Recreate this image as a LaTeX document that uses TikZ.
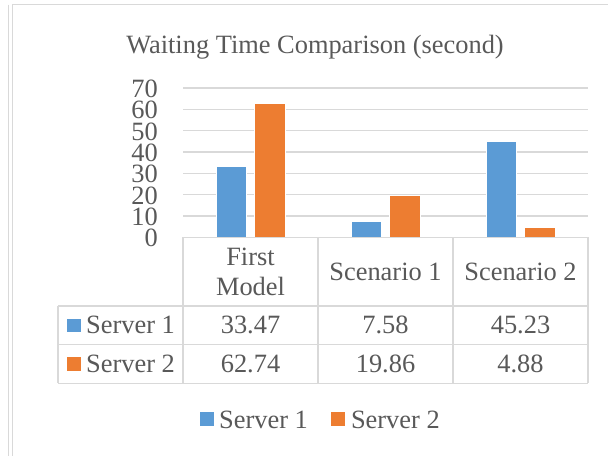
\documentclass[tikz,border=0pt]{standalone}
\usepackage{fontspec}
\setmainfont{Liberation Serif}
\definecolor{txt}{RGB}{89,89,89}
\definecolor{rulegray}{RGB}{217,217,217}
\definecolor{serverone}{RGB}{91,155,213}
\definecolor{servertwo}{RGB}{237,125,49}
\begin{document}
\begin{tikzpicture}[x=1pt,y=-1pt,
  lbl/.style={text=txt,font=\fontsize{26.4}{30}\selectfont,inner sep=0pt},
  gridline/.style={draw=rulegray,line width=1.3pt},
  cell/.style={draw=rulegray,line width=1.3pt},
  frameline/.style={draw=rulegray,line width=1.4pt},
  barone/.style={fill=serverone,draw=white,line width=0.6pt},
  bartwo/.style={fill=servertwo,draw=white,line width=0.6pt},
  keyone/.style={fill=serverone},
  keytwo/.style={fill=servertwo}]
\useasboundingbox[fill=white] (0,0) rectangle (608,456);

% outer frame
\draw[frameline] (8.7,4.7) -- (8.7,456);
\draw[frameline] (608,4.7) -- (12.7,4.7) -- (12.7,456);

% title
\node[lbl,anchor=base] (title) at (315,53) {Waiting Time Comparison (second)};

% horizontal gridlines and axis labels
\foreach \v in {10,20,...,70}{
  \draw[gridline] (183,237.3-2.1333*\v) -- (588,237.3-2.1333*\v);
}
\foreach \v in {0,10,...,70}{
  \node[lbl,anchor=east] (tick\v) at (158,238.3-2.1333*\v) {\v};
}

% bars (value * 2.1333 px)
\foreach \c/\a/\b in {250.5/33.47/62.74, 385.5/7.58/19.86, 520.5/45.23/4.88}{
  \draw[barone] (\c-34.5,237.3) rectangle (\c-4.2,237.3-2.1333*\a);
  \draw[bartwo] (\c+4.2,237.3) rectangle (\c+34.5,237.3-2.1333*\b);
}

% data table
\draw[cell] (183,237.3) -- (588,237.3);
\draw[cell] (58,306) -- (588,306);
\draw[cell] (58,344.7) -- (588,344.7);
\draw[cell] (58,383.3) -- (588,383.3);
\draw[cell] (58,306) -- (58,383.3);
\foreach \x in {183,318,453,588}{
  \draw[cell] (\x,237.3) -- (\x,383.3);
}

% column headers
\node[lbl,anchor=base] (hfirst) at (250.5,265) {First};
\node[lbl,anchor=base] (hmodel) at (250.5,295) {Model};
\node[lbl,anchor=base] (hscone) at (385.5,280) {Scenario 1};
\node[lbl,anchor=base] (hsctwo) at (520.5,280) {Scenario 2};

% row labels
\fill[keyone] (67.3,319) rectangle (80.7,332.3);
\node[lbl,anchor=base west] (rowone) at (86,333.5) {Server 1};
\fill[keytwo] (67.3,357.3) rectangle (80.7,370.7);
\node[lbl,anchor=base west] (rowtwo) at (86,372) {Server 2};

% values
\node[lbl,anchor=base] (vaa) at (250.5,333.5) {33.47};
\node[lbl,anchor=base] (vab) at (385.5,333.5) {7.58};
\node[lbl,anchor=base] (vac) at (520.5,333.5) {45.23};
\node[lbl,anchor=base] (vba) at (250.5,372) {62.74};
\node[lbl,anchor=base] (vbb) at (385.5,372) {19.86};
\node[lbl,anchor=base] (vbc) at (520.5,372) {4.88};

% legend
\fill[keyone] (200.4,411.7) rectangle (214.3,425.7);
\node[lbl,anchor=base west] (legone) at (219,428) {Server 1};
\fill[keytwo] (331.4,411.7) rectangle (345,425.7);
\node[lbl,anchor=base west] (legtwo) at (350.8,428) {Server 2};
\end{tikzpicture}
\end{document}
